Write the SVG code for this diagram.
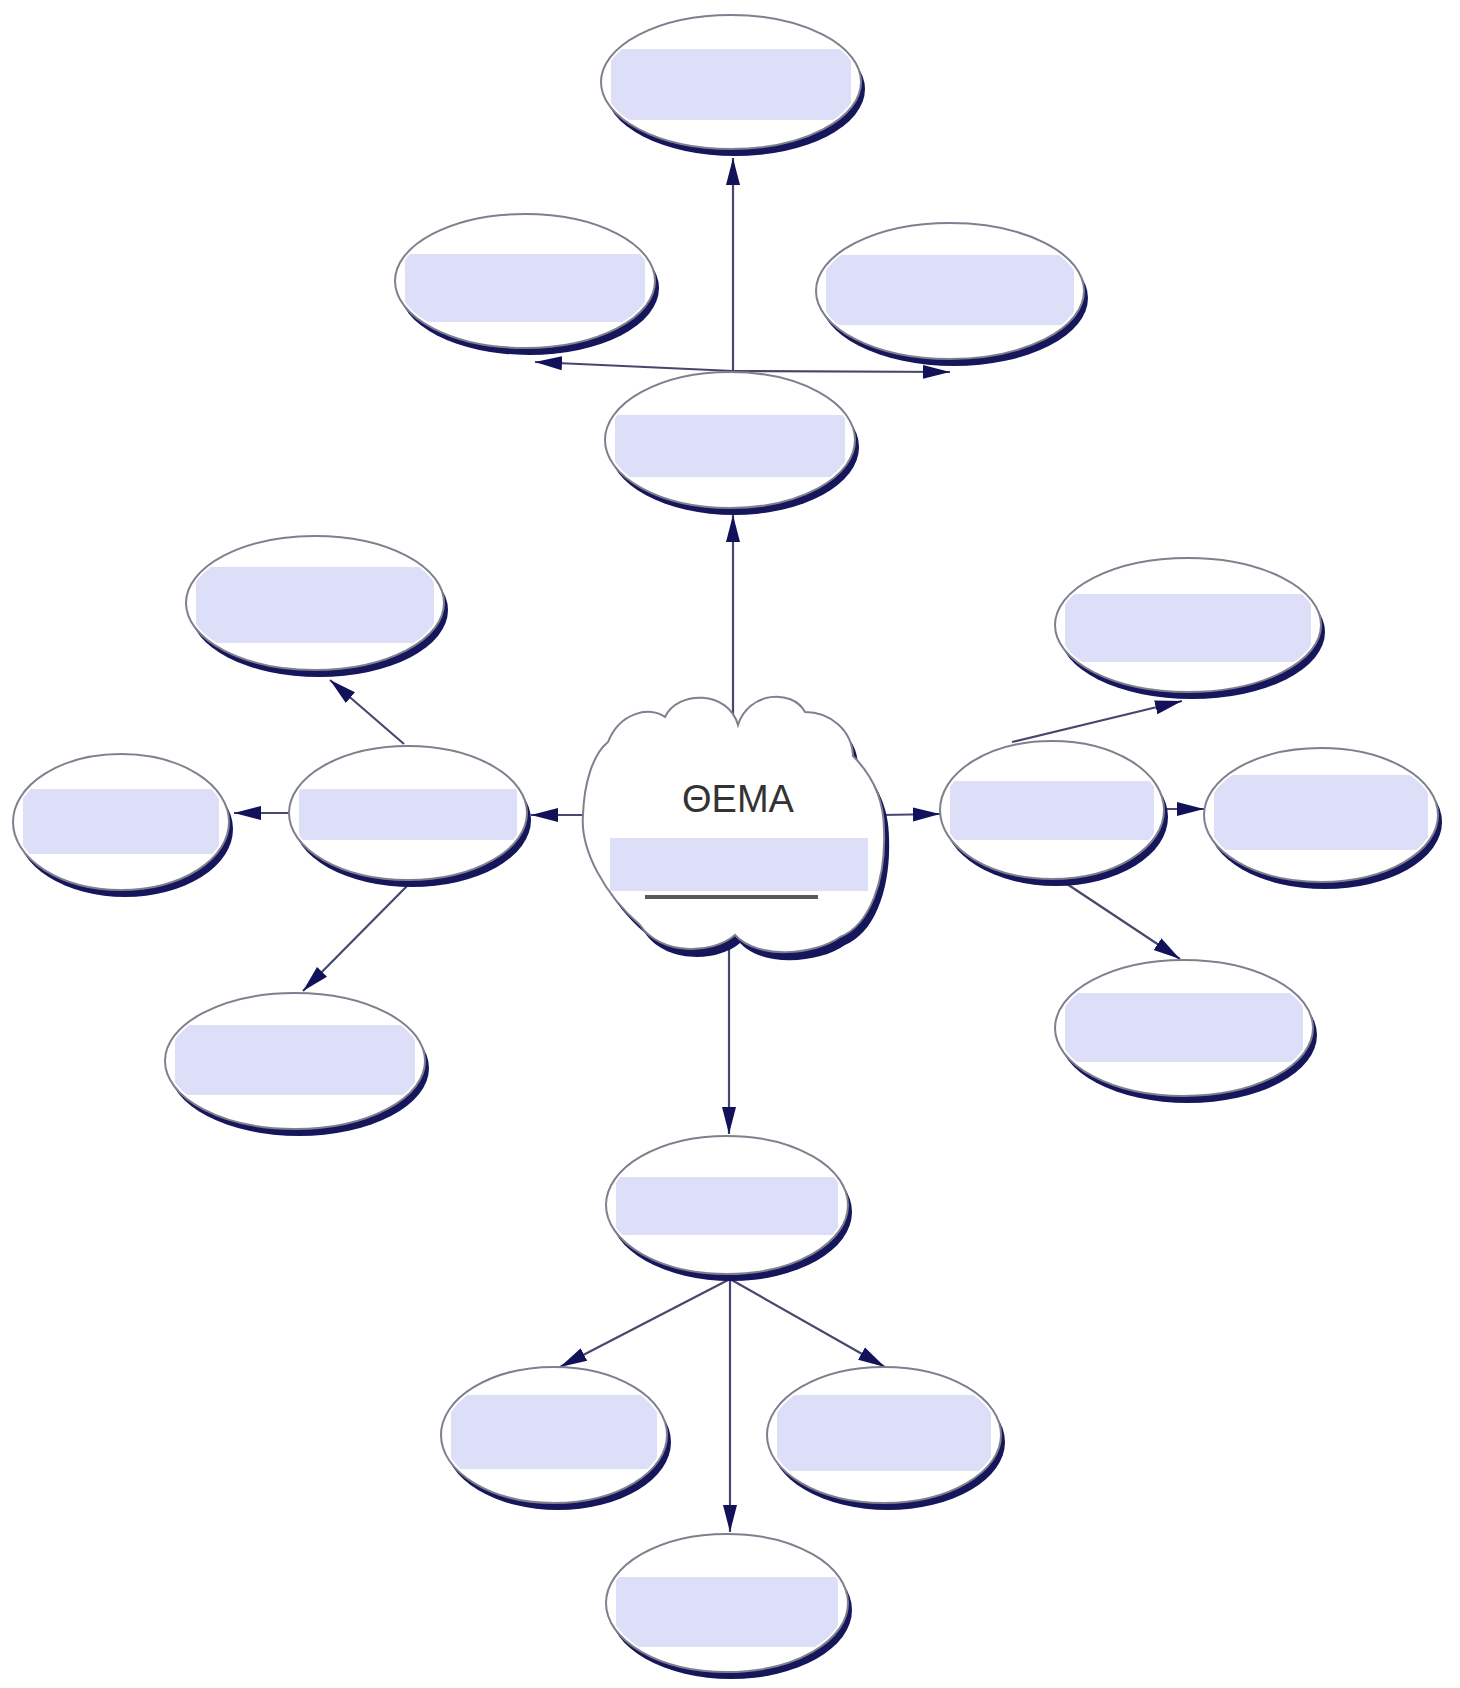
<svg xmlns="http://www.w3.org/2000/svg" width="1460" height="1688" viewBox="0 0 1460 1688">
  <style>
    .shadow { fill: #14145c; filter: url(#soft); }
    .face { fill: #ffffff; }
    .band { fill: #dcdff7; }
    .rim { fill: none; stroke: #7f7f8e; stroke-width: 2; }
    .link { fill: none; stroke: #47476e; stroke-width: 2.2; marker-end: url(#arrow); }
    .title { font-family: "Liberation Sans", Arial, sans-serif; font-size: 38px; fill: #333333; text-anchor: middle; }
  </style>
  <defs>
    <filter id="soft" x="-10%" y="-10%" width="120%" height="120%">
      <feGaussianBlur stdDeviation="0.7"/>
    </filter>
    <marker id="arrow" markerUnits="userSpaceOnUse" markerWidth="30" markerHeight="16" refX="27" refY="8" orient="auto">
      <path d="M0,1 L27,8 L0,15 Z" fill="#12125a"/>
    </marker>
    <path id="cloud-shape" d="M 738 725 C 748 692, 792 688, 805 712 C 830 712, 852 730, 853 756 C 872 775, 884 800, 884 830 C 886 880, 870 925, 840 937 C 815 955, 758 960, 735 935 C 712 955, 660 955, 640 925 C 605 895, 580 850, 583 815 C 584 785, 592 755, 608 742 C 620 712, 650 706, 665 717 C 678 690, 728 690, 738 725 Z"/>
    <clipPath id="k-theme"><use href="#cloud-shape"/></clipPath>
  </defs>

  <rect width="1460" height="1688" fill="#ffffff"/>

  <!-- connectors -->
  <g id="connectors">
    <line class="link" x1="733" y1="722" x2="733" y2="515"/>
    <line class="link" x1="733" y1="371" x2="733" y2="158"/>
    <line class="link" x1="733" y1="371" x2="535" y2="362"/>
    <line class="link" x1="733" y1="371" x2="950" y2="372"/>
    <line class="link" x1="585" y1="815" x2="531" y2="815"/>
    <line class="link" x1="289" y1="813" x2="234" y2="813"/>
    <line class="link" x1="404" y1="744" x2="330" y2="680"/>
    <line class="link" x1="407" y1="886" x2="303" y2="991"/>
    <line class="link" x1="882" y1="815" x2="940" y2="814"/>
    <line class="link" x1="1166" y1="809" x2="1204" y2="809"/>
    <line class="link" x1="1012" y1="742" x2="1182" y2="701"/>
    <line class="link" x1="1061" y1="880" x2="1180" y2="959"/>
    <line class="link" x1="729" y1="898" x2="729" y2="1134"/>
    <line class="link" x1="730" y1="1279" x2="560" y2="1367"/>
    <line class="link" x1="730" y1="1279" x2="885" y2="1367"/>
    <line class="link" x1="730" y1="1279" x2="730" y2="1532"/>
  </g>

  <!-- central theme cloud -->
  <g id="theme">
    <use href="#cloud-shape" class="shadow" transform="translate(5,8)"/>
    <use href="#cloud-shape" class="face"/>
    <rect class="band" x="610" y="838" width="258" height="53" clip-path="url(#k-theme)"/>
    <use href="#cloud-shape" class="rim"/>
    <line x1="645" y1="897" x2="818" y2="897" stroke="#58585e" stroke-width="4"/>
    <text class="title" x="738" y="812">ΘΕΜΑ</text>
  </g>

  <!-- idea bubbles -->
  <g id="n-top">
    <clipPath id="k-top"><ellipse cx="731" cy="82" rx="127" ry="64"/></clipPath>
    <ellipse class="shadow" cx="735" cy="89" rx="130" ry="67"/>
    <ellipse class="face" cx="731" cy="82" rx="130" ry="67"/>
    <rect class="band" x="611" y="49" width="240" height="71" clip-path="url(#k-top)"/>
    <ellipse class="rim" cx="731" cy="82" rx="130" ry="67"/>
  </g>
  <g id="n-top-left">
    <clipPath id="k-top-left"><ellipse cx="525" cy="281" rx="127" ry="64"/></clipPath>
    <ellipse class="shadow" cx="529" cy="288" rx="130" ry="67"/>
    <ellipse class="face" cx="525" cy="281" rx="130" ry="67"/>
    <rect class="band" x="405" y="254" width="240" height="68" clip-path="url(#k-top-left)"/>
    <ellipse class="rim" cx="525" cy="281" rx="130" ry="67"/>
  </g>
  <g id="n-top-right">
    <clipPath id="k-top-right"><ellipse cx="950" cy="291" rx="131" ry="65"/></clipPath>
    <ellipse class="shadow" cx="954" cy="298" rx="134" ry="68"/>
    <ellipse class="face" cx="950" cy="291" rx="134" ry="68"/>
    <rect class="band" x="826" y="255" width="248" height="70" clip-path="url(#k-top-right)"/>
    <ellipse class="rim" cx="950" cy="291" rx="134" ry="68"/>
  </g>
  <g id="n-upper">
    <clipPath id="k-upper"><ellipse cx="730" cy="440" rx="122" ry="65"/></clipPath>
    <ellipse class="shadow" cx="734" cy="447" rx="125" ry="68"/>
    <ellipse class="face" cx="730" cy="440" rx="125" ry="68"/>
    <rect class="band" x="615" y="415" width="230" height="62" clip-path="url(#k-upper)"/>
    <ellipse class="rim" cx="730" cy="440" rx="125" ry="68"/>
  </g>
  <g id="n-left-top">
    <clipPath id="k-left-top"><ellipse cx="315" cy="603" rx="126" ry="64"/></clipPath>
    <ellipse class="shadow" cx="319" cy="610" rx="129" ry="67"/>
    <ellipse class="face" cx="315" cy="603" rx="129" ry="67"/>
    <rect class="band" x="196" y="567" width="238" height="76" clip-path="url(#k-left-top)"/>
    <ellipse class="rim" cx="315" cy="603" rx="129" ry="67"/>
  </g>
  <g id="n-left-far">
    <clipPath id="k-left-far"><ellipse cx="121" cy="822" rx="105" ry="65"/></clipPath>
    <ellipse class="shadow" cx="125" cy="829" rx="108" ry="68"/>
    <ellipse class="face" cx="121" cy="822" rx="108" ry="68"/>
    <rect class="band" x="23" y="789" width="196" height="65" clip-path="url(#k-left-far)"/>
    <ellipse class="rim" cx="121" cy="822" rx="108" ry="68"/>
  </g>
  <g id="n-left">
    <clipPath id="k-left"><ellipse cx="408" cy="813" rx="116" ry="64"/></clipPath>
    <ellipse class="shadow" cx="412" cy="820" rx="119" ry="67"/>
    <ellipse class="face" cx="408" cy="813" rx="119" ry="67"/>
    <rect class="band" x="299" y="789" width="218" height="51" clip-path="url(#k-left)"/>
    <ellipse class="rim" cx="408" cy="813" rx="119" ry="67"/>
  </g>
  <g id="n-left-bottom">
    <clipPath id="k-left-bottom"><ellipse cx="295" cy="1061" rx="127" ry="65"/></clipPath>
    <ellipse class="shadow" cx="299" cy="1068" rx="130" ry="68"/>
    <ellipse class="face" cx="295" cy="1061" rx="130" ry="68"/>
    <rect class="band" x="175" y="1025" width="240" height="70" clip-path="url(#k-left-bottom)"/>
    <ellipse class="rim" cx="295" cy="1061" rx="130" ry="68"/>
  </g>
  <g id="n-right-top">
    <clipPath id="k-right-top"><ellipse cx="1188" cy="625" rx="130" ry="64"/></clipPath>
    <ellipse class="shadow" cx="1192" cy="632" rx="133" ry="67"/>
    <ellipse class="face" cx="1188" cy="625" rx="133" ry="67"/>
    <rect class="band" x="1065" y="594" width="246" height="68" clip-path="url(#k-right-top)"/>
    <ellipse class="rim" cx="1188" cy="625" rx="133" ry="67"/>
  </g>
  <g id="n-right">
    <clipPath id="k-right"><ellipse cx="1052" cy="810" rx="109" ry="66"/></clipPath>
    <ellipse class="shadow" cx="1056" cy="817" rx="112" ry="69"/>
    <ellipse class="face" cx="1052" cy="810" rx="112" ry="69"/>
    <rect class="band" x="950" y="781" width="204" height="59" clip-path="url(#k-right)"/>
    <ellipse class="rim" cx="1052" cy="810" rx="112" ry="69"/>
  </g>
  <g id="n-right-far">
    <clipPath id="k-right-far"><ellipse cx="1321" cy="815" rx="114" ry="64"/></clipPath>
    <ellipse class="shadow" cx="1325" cy="822" rx="117" ry="67"/>
    <ellipse class="face" cx="1321" cy="815" rx="117" ry="67"/>
    <rect class="band" x="1214" y="775" width="214" height="75" clip-path="url(#k-right-far)"/>
    <ellipse class="rim" cx="1321" cy="815" rx="117" ry="67"/>
  </g>
  <g id="n-right-bottom">
    <clipPath id="k-right-bottom"><ellipse cx="1184" cy="1028" rx="126" ry="65"/></clipPath>
    <ellipse class="shadow" cx="1188" cy="1035" rx="129" ry="68"/>
    <ellipse class="face" cx="1184" cy="1028" rx="129" ry="68"/>
    <rect class="band" x="1065" y="993" width="238" height="69" clip-path="url(#k-right-bottom)"/>
    <ellipse class="rim" cx="1184" cy="1028" rx="129" ry="68"/>
  </g>
  <g id="n-lower">
    <clipPath id="k-lower"><ellipse cx="727" cy="1205" rx="118" ry="66"/></clipPath>
    <ellipse class="shadow" cx="731" cy="1212" rx="121" ry="69"/>
    <ellipse class="face" cx="727" cy="1205" rx="121" ry="69"/>
    <rect class="band" x="616" y="1177" width="222" height="58" clip-path="url(#k-lower)"/>
    <ellipse class="rim" cx="727" cy="1205" rx="121" ry="69"/>
  </g>
  <g id="n-lower-left">
    <clipPath id="k-lower-left"><ellipse cx="554" cy="1435" rx="110" ry="65"/></clipPath>
    <ellipse class="shadow" cx="558" cy="1442" rx="113" ry="68"/>
    <ellipse class="face" cx="554" cy="1435" rx="113" ry="68"/>
    <rect class="band" x="451" y="1395" width="206" height="74" clip-path="url(#k-lower-left)"/>
    <ellipse class="rim" cx="554" cy="1435" rx="113" ry="68"/>
  </g>
  <g id="n-lower-right">
    <clipPath id="k-lower-right"><ellipse cx="884" cy="1435" rx="114" ry="65"/></clipPath>
    <ellipse class="shadow" cx="888" cy="1442" rx="117" ry="68"/>
    <ellipse class="face" cx="884" cy="1435" rx="117" ry="68"/>
    <rect class="band" x="777" y="1395" width="214" height="76" clip-path="url(#k-lower-right)"/>
    <ellipse class="rim" cx="884" cy="1435" rx="117" ry="68"/>
  </g>
  <g id="n-bottom">
    <clipPath id="k-bottom"><ellipse cx="727" cy="1603" rx="118" ry="66"/></clipPath>
    <ellipse class="shadow" cx="731" cy="1610" rx="121" ry="69"/>
    <ellipse class="face" cx="727" cy="1603" rx="121" ry="69"/>
    <rect class="band" x="616" y="1577" width="222" height="70" clip-path="url(#k-bottom)"/>
    <ellipse class="rim" cx="727" cy="1603" rx="121" ry="69"/>
  </g>
</svg>
